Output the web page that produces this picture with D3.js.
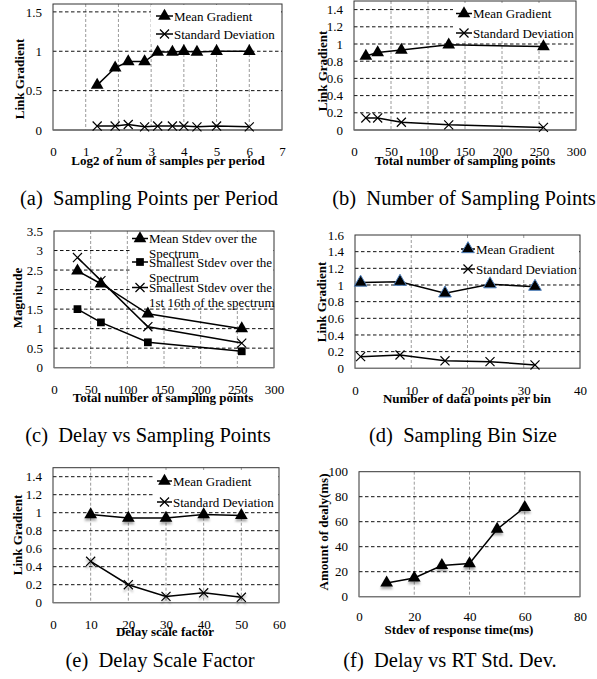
<!DOCTYPE html>
<html>
<head>
<meta charset="utf-8">
<script src="https://cdn.jsdelivr.net/npm/d3@7"></script>
<style>
  body { margin: 0; background: #fff; }
</style>
</head>
<body>
<div id="chart"></div>
<script>
const SERIF = "'Liberation Serif', 'Times New Roman', Times, serif";

// (a) sampling points per period
const xA = [1.35, 1.9, 2.3, 2.8, 3.2, 3.65, 4, 4.4, 5, 6];
const meanA = [0.57, 0.79, 0.87, 0.87, 0.99, 0.99, 1.0, 0.99, 1.0, 1.0];
const sdA = [0.05, 0.05, 0.07, 0.04, 0.05, 0.05, 0.05, 0.04, 0.05, 0.04];
const xTicksA = [0, 1, 2, 3, 4, 5, 6, 7];
const yTicksA = [0, 0.5, 1, 1.5];

// (b) number of sampling points
const xB = [16, 32, 64, 128, 256];
const meanB = [0.86, 0.9, 0.93, 0.99, 0.97];
const sdB = [0.14, 0.14, 0.09, 0.06, 0.03];
const xTicksB = [0, 50, 100, 150, 200, 250, 300];
const yTicksB = [0, 0.2, 0.4, 0.6, 0.8, 1, 1.2, 1.4];

// (c) delay vs sampling points
const xC = [32, 64, 128, 256];
const meanStdevC = [2.48, 2.15, 1.38, 1.0];
const smallStdevC = [1.5, 1.16, 0.65, 0.42];
const small16C = [2.82, 2.23, 1.05, 0.63];
const xTicksC = [0, 50, 100, 150, 200, 250, 300];
const yTicksC = [0, 0.5, 1, 1.5, 2, 2.5, 3, 3.5];

// (d) sampling bin size
const xD = [1, 8, 16, 24, 32];
const meanD = [1.03, 1.04, 0.9, 1.01, 0.98];
const sdD = [0.14, 0.16, 0.09, 0.08, 0.04];
const xTicksD = [0, 10, 20, 30, 40];
const yTicksD = [0, 0.2, 0.4, 0.6, 0.8, 1, 1.2, 1.4, 1.6];

// (e) delay scale factor
const xE = [10, 20, 30, 40, 50];
const meanE = [0.98, 0.94, 0.94, 0.98, 0.97];
const sdE = [0.46, 0.2, 0.07, 0.11, 0.06];
const xTicksE = [0, 10, 20, 30, 40, 50, 60];
const yTicksE = [0, 0.2, 0.4, 0.6, 0.8, 1, 1.2, 1.4];

// (f) delay vs RT std dev
const xF = [10, 20, 30, 40, 50, 60];
const delayF = [11, 15, 25, 26.5, 54, 71.5];
const xTicksF = [0, 20, 40, 60, 80];
const yTicksF = [0, 20, 40, 60, 80, 100];

const svg = d3.select("#chart").append("svg")
    .attr("width", 597)
    .attr("height", 679)
    .style("font-family", SERIF);

const defs = svg.append("defs");
defs.append("filter").attr("id", "shadow")
    .attr("x", "-50%").attr("y", "-50%").attr("width", "200%").attr("height", "200%")
    .append("feDropShadow")
    .attr("dx", 0).attr("dy", 2.5).attr("stdDeviation", 1)
    .attr("flood-color", "#000").attr("flood-opacity", 0.35);

const markerPath = {
    tri: d3.symbol(d3.symbolTriangle, 70)(),
    sq: d3.symbol(d3.symbolSquare, 60)(),
    x: d3.symbol(d3.symbolTimes, 55)()
};

function txt(sel, size, bold) {
    return sel.style("font-family", SERIF)
        .style("font-size", size + "px")
        .style("font-weight", bold ? "bold" : "normal")
        .attr("fill", "#000");
}

function drawMarker(g, kind, x, y, opt) {
    const p = g.append("path")
        .attr("d", markerPath[kind])
        .attr("transform", `translate(${x},${y})`);
    if (kind === "x") {
        p.attr("fill", "none").attr("stroke", "#000").attr("stroke-width", 1.2);
    } else {
        p.attr("fill", "#000");
        if (opt && opt.edge) p.attr("stroke", opt.edge).attr("stroke-width", 1);
    }
    if (opt && opt.shadow) p.attr("filter", "url(#shadow)");
}

function drawPanel(p) {
    const g = svg.append("g");
    const x = d3.scaleLinear().domain(p.xDomain).range([p.left, p.right]);
    const y = d3.scaleLinear().domain(p.yDomain).range([p.bottom, p.top]);

    // gridlines
    g.selectAll(".vg").data(p.xTicks.filter(v => v > p.xDomain[0] && v < p.xDomain[1]))
        .enter().append("line")
        .attr("x1", d => x(d)).attr("x2", d => x(d))
        .attr("y1", p.top).attr("y2", p.bottom)
        .attr("stroke", "#9a9a9a").attr("stroke-dasharray", "3,2");
    g.selectAll(".hg").data(p.yTicks.filter(v => v > 0 && v < p.yDomain[1]))
        .enter().append("line")
        .attr("x1", p.left).attr("x2", p.right)
        .attr("y1", d => y(d)).attr("y2", d => y(d))
        .attr("stroke", "#111").attr("stroke-dasharray", "3.5,2.5");

    g.append("rect")
        .attr("x", p.left).attr("y", p.top)
        .attr("width", p.right - p.left).attr("height", p.bottom - p.top)
        .attr("fill", "none").attr("stroke", "#333").attr("stroke-width", 1);
    g.append("line")
        .attr("x1", p.left).attr("x2", p.right)
        .attr("y1", p.bottom).attr("y2", p.bottom)
        .attr("stroke", "#777").attr("stroke-width", 1.3);

    // axes (labels only)
    const xAxis = g.append("g")
        .attr("transform", `translate(0,${p.bottom})`)
        .call(d3.axisBottom(x).tickValues(p.xTicks).tickSize(0).tickPadding(p.xPad).tickFormat(d => String(d)));
    xAxis.select(".domain").remove();
    xAxis.attr("font-family", null);
    txt(xAxis.selectAll("text"), 13);

    const yAxis = g.append("g")
        .attr("transform", `translate(${p.left},0)`)
        .call(d3.axisLeft(y).tickValues(p.yTicks).tickSize(0).tickPadding(p.yPad).tickFormat(d => String(d)));
    yAxis.select(".domain").remove();
    yAxis.attr("font-family", null);
    txt(yAxis.selectAll("text"), 13);

    // axis titles
    txt(g.append("text")
        .attr("x", p.xTitle[0]).attr("y", p.xTitle[1])
        .attr("text-anchor", "middle"), 13, true)
        .text(p.xLabel);
    txt(g.append("text")
        .attr("transform", `translate(${p.yTitle[0]},${p.yTitle[1]}) rotate(-90)`)
        .attr("text-anchor", "middle"), 13, true)
        .text(p.yLabel);

    // legend
    if (p.legend) {
        const L = p.legend;
        g.append("rect")
            .attr("x", L.box[0]).attr("y", L.box[1])
            .attr("width", L.box[2]).attr("height", L.box[3])
            .attr("fill", "#fff");
        L.items.forEach(it => {
            g.append("line")
                .attr("x1", L.x0).attr("x2", L.x1)
                .attr("y1", it.y).attr("y2", it.y)
                .attr("stroke", "#000").attr("stroke-width", 1.5);
            drawMarker(g, it.kind, (L.x0 + L.x1) / 2, it.y, { edge: it.edge });
            it.lines.forEach((t, i) => {
                txt(g.append("text")
                    .attr("x", L.x1 + 1).attr("y", it.y + 4.5 + i * 15), 13)
                    .text(t);
            });
        });
    }

    // series
    p.series.forEach(s => {
        const pts = p.xs.map((v, i) => [x(v), y(s.values[i])]);
        g.append("path")
            .attr("d", d3.line()(pts))
            .attr("fill", "none").attr("stroke", "#000").attr("stroke-width", 1.5);
        pts.forEach(pt => drawMarker(g, s.kind, pt[0], pt[1], { edge: s.edge, shadow: p.shadow }));
    });

    // caption
    txt(g.append("text")
        .attr("x", p.caption[0]).attr("y", p.caption[1])
        .attr("text-anchor", "middle")
        .attr("xml:space", "preserve"), 20.5)
        .text(p.captionText);
}

const panels = [
    {
        left: 53, right: 282, top: 4, bottom: 130,
        xDomain: [0, 7], yDomain: [0, 1.6], xTicks: xTicksA, yTicks: yTicksA,
        xPad: 17, yPad: 11,
        xLabel: "Log2 of num of samples per period", xTitle: [168, 165],
        yLabel: "Link Gradient", yTitle: [24, 79],
        xs: xA,
        series: [{ values: meanA, kind: "tri" }, { values: sdA, kind: "x" }],
        legend: {
            box: [151, 5, 130, 38], x0: 156, x1: 173,
            items: [
                { y: 16, kind: "tri", lines: ["Mean Gradient"] },
                { y: 34, kind: "x", lines: ["Standard Deviation"] }
            ]
        },
        caption: [149, 205], captionText: "(a)  Sampling Points per Period"
    },
    {
        left: 354, right: 576, top: 1, bottom: 130,
        xDomain: [0, 300], yDomain: [0, 1.5], xTicks: xTicksB, yTicks: yTicksB,
        xPad: 17, yPad: 11,
        xLabel: "Total number of sampling points", xTitle: [465, 165],
        yLabel: "Link Gradient", yTitle: [327, 71],
        xs: xB,
        series: [{ values: meanB, kind: "tri" }, { values: sdB, kind: "x" }],
        legend: {
            box: [453, 3, 122, 38], x0: 456, x1: 472,
            items: [
                { y: 13.5, kind: "tri", lines: ["Mean Gradient"] },
                { y: 33, kind: "x", lines: ["Standard Deviation"] }
            ]
        },
        caption: [464, 205], captionText: "(b)  Number of Sampling Points"
    },
    {
        left: 54, right: 274, top: 231, bottom: 367.7,
        xDomain: [0, 300], yDomain: [0, 3.5], xTicks: xTicksC, yTicks: yTicksC,
        xPad: 17, yPad: 11,
        xLabel: "Total number of sampling points", xTitle: [163, 402],
        yLabel: "Magnitude", yTitle: [22, 298],
        xs: xC,
        series: [
            { values: meanStdevC, kind: "tri" },
            { values: smallStdevC, kind: "sq" },
            { values: small16C, kind: "x" }
        ],
        legend: {
            box: [130, 232, 143, 75], x0: 132, x1: 148,
            items: [
                { y: 238.5, kind: "tri", lines: ["Mean Stdev over the", "Spectrum"] },
                { y: 262, kind: "sq", lines: ["Smallest Stdev over the", "Spectrum"] },
                { y: 287.5, kind: "x", lines: ["Smallest Stdev over the", "1st 16th of the spectrum"] }
            ]
        },
        caption: [148, 442], captionText: "(c)  Delay vs Sampling Points"
    },
    {
        left: 355, right: 580, top: 235, bottom: 368.3,
        xDomain: [0, 40], yDomain: [0, 1.6], xTicks: xTicksD, yTicks: yTicksD,
        xPad: 17, yPad: 11,
        xLabel: "Number of data points per bin", xTitle: [467, 403],
        yLabel: "Link Gradient", yTitle: [326, 302],
        xs: xD,
        series: [{ values: meanD, kind: "tri", edge: "#4f81bd" }, { values: sdD, kind: "x" }],
        legend: {
            box: [459, 238, 120, 40], x0: 461, x1: 475,
            items: [
                { y: 249, kind: "tri", edge: "#4f81bd", lines: ["Mean Gradient"] },
                { y: 269, kind: "x", lines: ["Standard Deviation"] }
            ]
        },
        caption: [463, 442], captionText: "(d)  Sampling Bin Size"
    },
    {
        left: 53, right: 279, top: 467.7, bottom: 602.7,
        xDomain: [0, 60], yDomain: [0, 1.5], xTicks: xTicksE, yTicks: yTicksE,
        xPad: 17, yPad: 11,
        xLabel: "Delay scale factor", xTitle: [165, 636],
        yLabel: "Link Gradient", yTitle: [22, 535],
        xs: xE, shadow: true,
        series: [{ values: meanE, kind: "tri" }, { values: sdE, kind: "x" }],
        legend: {
            box: [154, 470, 124, 42], x0: 157, x1: 172,
            items: [
                { y: 481, kind: "tri", lines: ["Mean Gradient"] },
                { y: 502, kind: "x", lines: ["Standard Deviation"] }
            ]
        },
        caption: [160, 667], captionText: "(e)  Delay Scale Factor"
    },
    {
        left: 359, right: 580, top: 471.7, bottom: 596.7,
        xDomain: [0, 80], yDomain: [0, 100], xTicks: xTicksF, yTicks: yTicksF,
        xPad: 15, yPad: 11,
        xLabel: "Stdev of response time(ms)", xTitle: [459, 634],
        yLabel: "Amount of dealy(ms)", yTitle: [328, 532],
        xs: xF, shadow: true,
        series: [{ values: delayF, kind: "tri" }],
        caption: [450, 667], captionText: "(f)  Delay vs RT Std. Dev."
    }
];

panels.forEach(drawPanel);
</script>
</body>
</html>
